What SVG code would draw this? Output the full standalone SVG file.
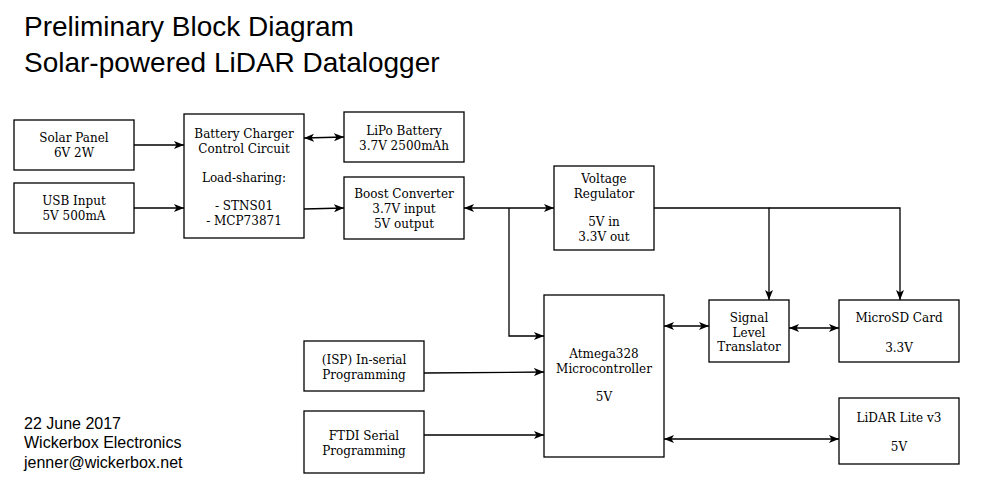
<svg xmlns="http://www.w3.org/2000/svg" width="990" height="495" viewBox="0 0 990 495">
<defs>
<marker id="a" viewBox="0 0 10 8" refX="10" refY="4" markerWidth="10" markerHeight="8" markerUnits="userSpaceOnUse" orient="auto-start-reverse">
<path d="M0,0 L10,4 L0,8 L2.5,4 z" fill="#000"/>
</marker>
</defs>
<style>
.b{fill:#fff;stroke:#000;stroke-width:1.3}
.t{font-family:"DejaVu Serif",serif;font-size:12px;fill:#000;text-anchor:middle}
.c{fill:none;stroke:#000;stroke-width:1.3}
.h{font-family:"Liberation Sans",Arial,sans-serif;fill:#000}
</style>
<rect width="990" height="495" fill="#fff"/>
<text class="h" x="24" y="36" font-size="28">Preliminary Block Diagram</text>
<text class="h" x="24" y="72" font-size="28">Solar-powered LiDAR Datalogger</text>
<g class="h" font-size="16">
<text x="24" y="429">22 June 2017</text>
<text x="24" y="448">Wickerbox Electronics</text>
<text x="24" y="468">jenner@wickerbox.net</text>
</g>
<g id="connectors">
<path class="c" d="M134,145 H184" marker-end="url(#a)"/>
<path class="c" d="M134,208 H184" marker-end="url(#a)"/>
<path class="c" d="M304,138 L344,137" marker-start="url(#a)" marker-end="url(#a)"/>
<path class="c" d="M304,209 L344,208" marker-end="url(#a)"/>
<path class="c" d="M464,208 H554" marker-start="url(#a)" marker-end="url(#a)"/>
<path class="c" d="M509,208 V336 H544" marker-end="url(#a)"/>
<path class="c" d="M654,208 H769 V300" marker-end="url(#a)"/>
<path class="c" d="M769,208 H900 V300" marker-end="url(#a)"/>
<path class="c" d="M664,326 H709" marker-start="url(#a)" marker-end="url(#a)"/>
<path class="c" d="M789,328 H839" marker-start="url(#a)" marker-end="url(#a)"/>
<path class="c" d="M424,373 L544,372" marker-end="url(#a)"/>
<path class="c" d="M424,435 H544" marker-end="url(#a)"/>
<path class="c" d="M664,439 H839" marker-start="url(#a)" marker-end="url(#a)"/>
</g>
<g id="solar"><rect class="b" x="14" y="120" width="120" height="50"/><text class="t" x="74" y="142">Solar Panel</text><text class="t" x="74" y="157">6V 2W</text></g>
<g id="usb"><rect class="b" x="14" y="183" width="120" height="50"/><text class="t" x="74" y="205">USB Input</text><text class="t" x="74" y="220">5V 500mA</text></g>
<g id="charger"><rect class="b" x="184" y="114" width="120" height="124"/><text class="t" x="244" y="138">Battery Charger</text><text class="t" x="244" y="153">Control Circuit</text><text class="t" x="244" y="182">Load-sharing:</text><text class="t" x="244" y="210">- STNS01</text><text class="t" x="244" y="225">- MCP73871</text></g>
<g id="lipo"><rect class="b" x="344" y="112" width="120" height="50"/><text class="t" x="404" y="135">LiPo Battery</text><text class="t" x="404" y="150">3.7V 2500mAh</text></g>
<g id="boost"><rect class="b" x="344" y="177" width="120" height="62"/><text class="t" x="404" y="198">Boost Converter</text><text class="t" x="404" y="213">3.7V input</text><text class="t" x="404" y="228">5V output</text></g>
<g id="regulator"><rect class="b" x="554" y="166" width="100" height="84"/><text class="t" x="604" y="183">Voltage</text><text class="t" x="604" y="198">Regulator</text><text class="t" x="604" y="226">5V in</text><text class="t" x="604" y="241">3.3V out</text></g>
<g id="atmega"><rect class="b" x="544" y="295" width="120" height="162"/><text class="t" x="604" y="358">Atmega328</text><text class="t" x="604" y="373">Microcontroller</text><text class="t" x="604" y="401">5V</text></g>
<g id="isp"><rect class="b" x="304" y="341" width="120" height="50"/><text class="t" x="364" y="364">(ISP) In-serial</text><text class="t" x="364" y="379">Programming</text></g>
<g id="ftdi"><rect class="b" x="304" y="411" width="120" height="62"/><text class="t" x="364" y="440">FTDI Serial</text><text class="t" x="364" y="455">Programming</text></g>
<g id="translator"><rect class="b" x="709" y="300" width="80" height="62"/><text class="t" x="749" y="322">Signal</text><text class="t" x="749" y="337">Level</text><text class="t" x="749" y="351">Translator</text></g>
<g id="microsd"><rect class="b" x="839" y="300" width="120" height="62"/><text class="t" x="899" y="322">MicroSD Card</text><text class="t" x="899" y="352">3.3V</text></g>
<g id="lidar"><rect class="b" x="839" y="398" width="120" height="66"/><text class="t" x="899" y="422">LiDAR Lite v3</text><text class="t" x="899" y="451">5V</text></g>
</svg>
